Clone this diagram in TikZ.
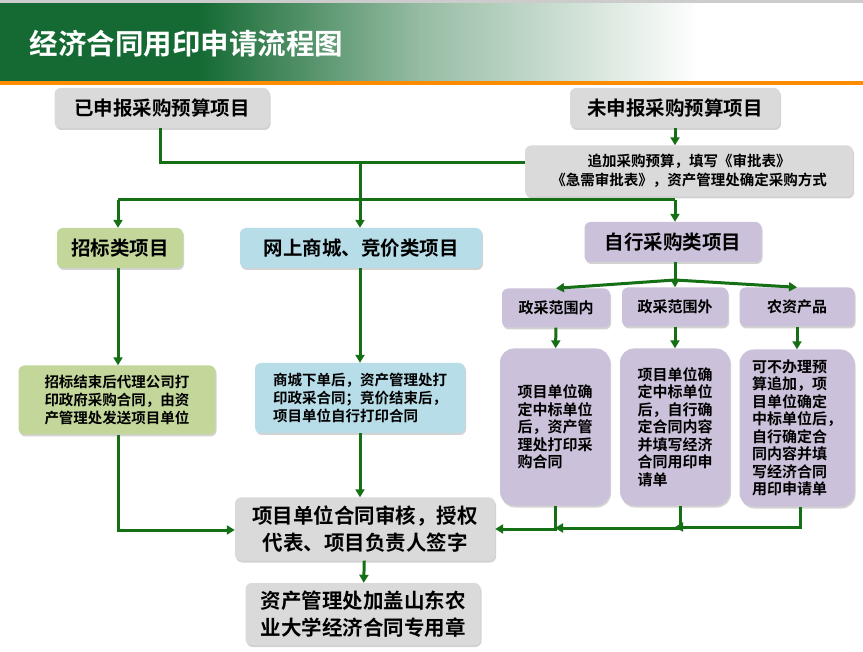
\documentclass[tikz,border=0pt]{standalone}
\usepackage{fontspec}
\setmainfont{Noto Sans CJK SC}[BoldFont={* Bold}]
\usetikzlibrary{shadows,arrows.meta}
\definecolor{dg}{HTML}{156A33}
\definecolor{ar}{HTML}{157015}
\definecolor{gb}{HTML}{DADADA}
\definecolor{gr}{HTML}{C4D79B}
\definecolor{bl}{HTML}{B7DDE8}
\definecolor{pu}{HTML}{CCC1DA}
\begin{document}
\begin{tikzpicture}[x=1pt,y=-1pt,
  bx/.style={rounded corners=6pt,drop shadow={shadow xshift=1pt,shadow yshift=-2pt,opacity=.35},font=\bfseries\fontsize{19.5}{25}\selectfont,align=center,inner sep=0pt},
  sm/.style={bx,font=\bfseries\fontsize{15}{17.5}\selectfont},
  ln/.style={draw=ar,line width=3pt},
  arr/.style={ln,-{Triangle[length=8pt,width=9pt]}}]
\useasboundingbox (0,0) rectangle (863,652);
\fill[white] (0,0) rectangle (863,652);
\fill[dg] (0,3) rectangle (200,82);
\shade[left color=dg,right color=dg!45!white] (199,3) rectangle (420,82);
\shade[left color=dg!45!white,right color=white] (419,3) rectangle (700,82);
\fill[gray!40] (0,0) rectangle (863,3);
\fill[orange!90!yellow] (0,81) rectangle (863,85);
\node[anchor=west,text=white,font=\bfseries\fontsize{28.5}{32}\selectfont] (title) at (26,44) {经济合同用印申请流程图};
\node[bx,fill=gb,minimum width=215pt,minimum height=40pt] (A) at (162,108) {已申报采购预算项目};
\node[bx,fill=gb,minimum width=210pt,minimum height=40pt] (B) at (675,108) {未申报采购预算项目};
\node[bx,fill=gb,minimum width=328pt,minimum height=51pt,font=\bfseries\fontsize{14.5}{19}\selectfont] (C) at (689,171) {追加采购预算，填写《审批表》\\《急需审批表》，资产管理处确定采购方式};
\node[bx,fill=gr,minimum width=126pt,minimum height=40pt] (D) at (120,248) {招标类项目};
\node[bx,fill=bl,minimum width=242pt,minimum height=40pt] (E) at (361,248) {网上商城、竞价类项目};
\node[bx,fill=pu,minimum width=177pt,minimum height=40pt] (F) at (673,242) {自行采购类项目};
\node[sm,fill=pu,minimum width=108pt,minimum height=39pt] (G1) at (556,308) {政采范围内};
\node[sm,fill=pu,minimum width=106pt,minimum height=39pt] (G2) at (675,307) {政采范围外};
\node[sm,fill=pu,minimum width=115pt,minimum height=39pt] (G3) at (797,307) {农资产品};
\node[sm,fill=pu,minimum width=110pt,minimum height=157pt,rounded corners=14pt,align=left] (H1) at (555,427) {项目单位确\\定中标单位\\后，资产管\\理处打印采\\购合同};
\node[sm,fill=pu,minimum width=110pt,minimum height=157pt,rounded corners=14pt,align=left] (H2) at (675,427) {项目单位确\\定中标单位\\后，自行确\\定合同内容\\并填写经济\\合同用印申\\请单};
\node[sm,fill=pu,minimum width=115pt,minimum height=157pt,rounded corners=14pt,align=left] (H3) at (797,428) {可不办理预\\算追加，项\\目单位确定\\中标单位后，\\自行确定合\\同内容并填\\写经济合同\\用印申请单};
\node[sm,fill=gr,minimum width=197pt,minimum height=69pt,align=left,font=\bfseries\fontsize{14.5}{18}\selectfont] (I) at (117,400) {招标结束后代理公司打\\印政府采购合同，由资\\产管理处发送项目单位};
\node[sm,fill=bl,minimum width=210pt,minimum height=70pt,align=left,font=\bfseries\fontsize{14.5}{18}\selectfont] (J) at (360,398) {商城下单后，资产管理处打\\印政采合同；竞价结束后，\\项目单位自行打印合同};
\node[bx,fill=gb,minimum width=260pt,minimum height=63pt,font=\bfseries\fontsize{20.5}{27}\selectfont] (K) at (365,529) {项目单位合同审核，授权\\代表、项目负责人签字};
\node[bx,fill=gb,minimum width=235pt,minimum height=62pt,font=\bfseries\fontsize{20.5}{27}\selectfont] (L) at (363,614) {资产管理处加盖山东农\\业大学经济合同专用章};
\coordinate (j1) at (360,163);
\coordinate (j2) at (360,200);
\coordinate (j3) at (675,280);
\draw[ln] (A.south -| 160,0) |- (C.west |- j1);
\draw[ln] (j1) -- (j2);
\draw[arr] (B.south) -- (B.south |- C.north);
\draw[ln] (118,200) -- (675,200);
\draw[arr] (118,200) -- (D.north -| 118,0);
\draw[arr] (j2) -- (E.north -| 360,0);
\draw[arr] (675,200) -- (F.north -| 675,0);
\draw[ln] (F.south -| 675,0) -- (j3);
\draw[arr] (j3) -- (G1.north);
\draw[arr] (j3) -- (G2.north);
\draw[arr] (j3) -- (G3.north);
\draw[arr] (G1) -- (H1);
\draw[arr] (G2) -- (H2);
\draw[arr] (G3.south) -- (H3.north);
\draw[arr] (D.south -| 118,0) -- (I.north -| 118,0);
\draw[arr] (E.south -| 360,0) -- (J.north -| 360,0);
\draw[arr] (J.south -| 360,0) -- (K.north -| 360,0);
\draw[arr] (K) -- (L);
\draw[arr] (I.south -| 118,0) |- (K.west |- 0,530);
\draw[arr] (H3.south -| 800,0) |- (H2.south |- 0,527);
\draw[arr] (H2.south -| 680,0) |- (H1.south |- 0,528);
\draw[arr] (H1.south -| 555,0) |- (K.east |- 0,529);
\end{tikzpicture}
\end{document}
